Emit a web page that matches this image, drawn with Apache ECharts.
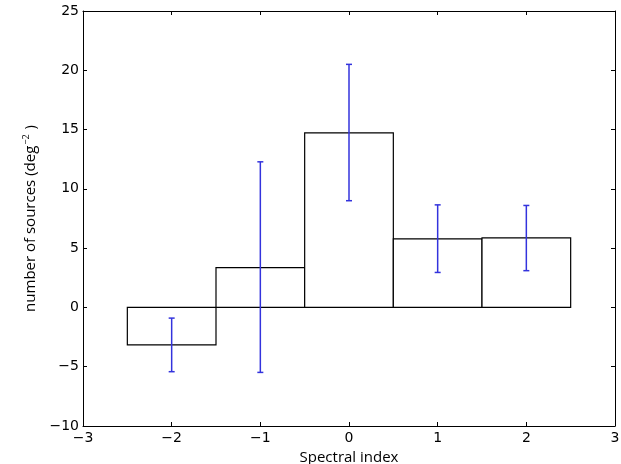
<!DOCTYPE html>
<html>
<head>
<meta charset="utf-8">
<script src="https://cdn.jsdelivr.net/npm/echarts@6/dist/echarts.min.js"></script>
<style>
  html, body { margin: 0; padding: 0; background: #fff; }
  #chart { width: 621px; height: 464px; }
</style>
</head>
<body>
<div id="chart"></div>
<script>
// spectral index bins (bin centres) and source counts
var binCenters = [-2, -1, 0, 1, 2];
var counts = [-3.15, 3.36, 14.72, 5.78, 5.87];
var errLow = [-5.42, -5.48, 9.0, 2.95, 3.1];
var errHigh = [-0.9, 12.28, 20.5, 8.65, 8.6];
var binWidth = 1;

var chart = echarts.init(document.getElementById("chart"));

function minusFmt(v) {
  return String(v).replace("-", "\u2212");
}

var tickStyle = { show: true, inside: true, length: 4, lineStyle: { color: "#000", width: 1 } };
var labelFont = { fontFamily: "DejaVu Sans", fontSize: 14, color: "#000" };

var option = {
  animation: false,
  backgroundColor: "#fff",
  grid: { left: 83, right: 6, top: 11, bottom: 38, outerBoundsMode: "none", containLabel: false },
  xAxis: [
    {
      type: "value", min: -3, max: 3, interval: 1,
      position: "bottom",
      name: "Spectral index", nameLocation: "middle", nameGap: 18,
      nameTextStyle: { fontFamily: "Open Sans", fontSize: 15, color: "#000" },
      axisLine: { onZero: false, lineStyle: { color: "#000", width: 1 } },
      axisTick: tickStyle,
      axisLabel: Object.assign({ formatter: minusFmt, margin: 5 }, labelFont),
      splitLine: { show: false }
    },
    {
      type: "value", min: -3, max: 3, interval: 1,
      position: "top",
      axisLine: { onZero: false, lineStyle: { color: "#000", width: 1 } },
      axisTick: tickStyle,
      axisLabel: { show: false },
      splitLine: { show: false }
    }
  ],
  yAxis: [
    {
      type: "value", min: -10, max: 25, interval: 5,
      position: "left",
      name: "{a|number of sources (deg}{s|\u22122}{a| )}",
      nameLocation: "middle", nameGap: 42, nameRotate: 90,
      nameTextStyle: {
        rich: {
          a: { fontFamily: "Open Sans", fontSize: 15, color: "#000" },
          s: { fontFamily: "Open Sans", fontSize: 9, color: "#000", verticalAlign: "top", padding: [0, 1, 9, 1] }
        }
      },
      axisLine: { onZero: false, lineStyle: { color: "#000", width: 1 } },
      axisTick: tickStyle,
      axisLabel: Object.assign({ formatter: minusFmt, margin: 4 }, labelFont),
      splitLine: { show: false }
    },
    {
      type: "value", min: -10, max: 25, interval: 5,
      position: "right",
      axisLine: { onZero: false, lineStyle: { color: "#000", width: 1 } },
      axisTick: tickStyle,
      axisLabel: { show: false },
      splitLine: { show: false }
    }
  ],
  series: [
    {
      type: "custom",
      xAxisIndex: 0, yAxisIndex: 0,
      data: binCenters.map(function (x, i) { return [x, counts[i]]; }),
      renderItem: function (params, api) {
        var x = api.value(0), v = api.value(1);
        var p1 = api.coord([x - binWidth / 2, v]);
        var p2 = api.coord([x + binWidth / 2, 0]);
        return {
          type: "rect",
          shape: {
            x: Math.min(p1[0], p2[0]), y: Math.min(p1[1], p2[1]),
            width: Math.abs(p2[0] - p1[0]), height: Math.abs(p2[1] - p1[1])
          },
          style: { fill: "#fff", stroke: "#000", lineWidth: 1.2 }
        };
      },
      z: 2
    },
    {
      type: "custom",
      xAxisIndex: 0, yAxisIndex: 0,
      data: binCenters.map(function (x, i) { return [x, errLow[i], errHigh[i]]; }),
      renderItem: function (params, api) {
        var x = api.value(0);
        var lo = api.coord([x, api.value(1)]);
        var hi = api.coord([x, api.value(2)]);
        var cap = 3;
        var st = { stroke: "#3333dd", lineWidth: 1.5 };
        return {
          type: "group",
          children: [
            { type: "line", shape: { x1: lo[0], y1: lo[1], x2: hi[0], y2: hi[1] }, style: st },
            { type: "line", shape: { x1: lo[0] - cap, y1: lo[1], x2: lo[0] + cap, y2: lo[1] }, style: st },
            { type: "line", shape: { x1: hi[0] - cap, y1: hi[1], x2: hi[0] + cap, y2: hi[1] }, style: st }
          ]
        };
      },
      z: 3
    }
  ]
};

chart.setOption(option);
</script>
</body>
</html>
